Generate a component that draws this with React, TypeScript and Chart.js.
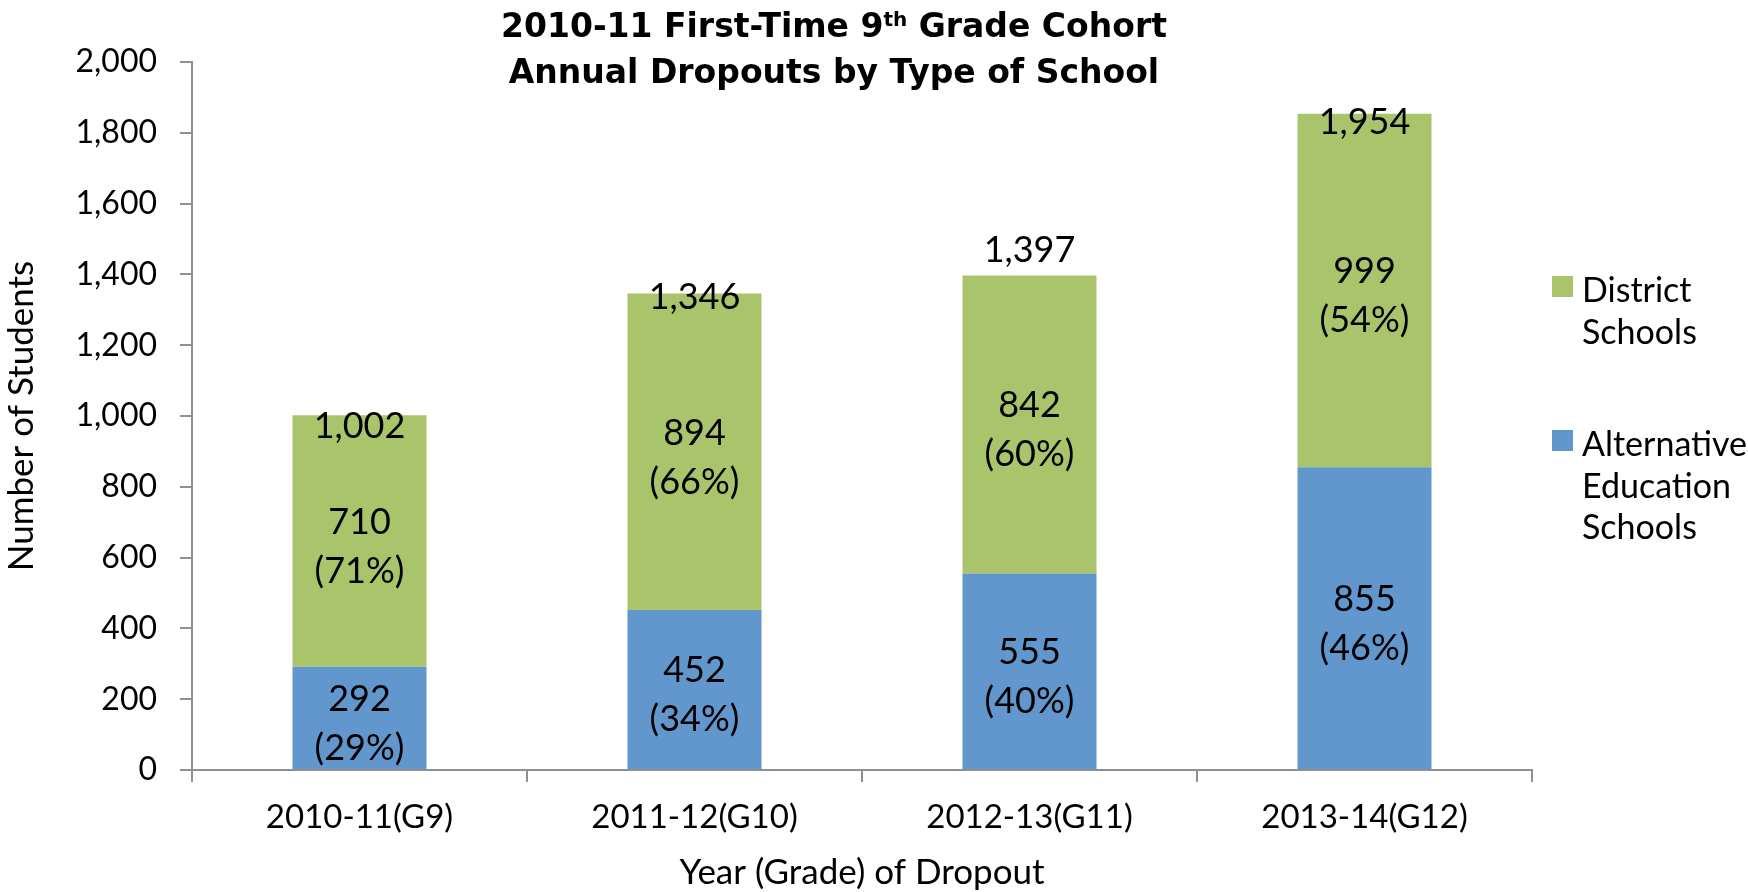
import React, { useEffect, useRef } from "react";
import { Chart, registerables } from "chart.js";

Chart.register(...registerables);

// ---- data ----
const categories = ["2010-11(G9)", "2011-12(G10)", "2012-13(G11)", "2013-14(G12)"];
const alternativeValues = [292, 452, 555, 855];
const districtValues = [710, 894, 842, 999];
const totalLabels = ["1,002", "1,346", "1,397", "1,954"];
const seriesNames = ["Alternative Education Schools", "District Schools"];
const legendLines: Record<string, string[]> = {
  "District Schools": ["District", "Schools"],
  "Alternative Education Schools": ["Alternative", "Education", "Schools"],
};
const titleLine1 = ["2010-11 First-Time 9", "th", " Grade Cohort"];
const titleLine2 = "Annual Dropouts by Type of School";
const xTitle = "Year (Grade) of Dropout";
const yTitle = "Number of Students";
const yMin = 0;
const yMax = 2000;
const yStep = 200;

// ---- styles ----
const GREEN = "#A9C46B";
const BLUE = "#6297CD";
const AXIS = "#8f8f8f";
const FONT = "Lato, 'Open Sans', sans-serif";
const TITLE_FONT = "'DejaVu Sans', Lato, sans-serif";
const totalLabelNudge = [9.5, 3, -26.5, 7];

const titlePlugin = {
  id: "customTitle",
  afterDraw(chart: any) {
    const ctx = chart.ctx;
    ctx.save();
    ctx.fillStyle = "#000";
    ctx.textBaseline = "alphabetic";
    ctx.textAlign = "left";
    const cx = 834;
    const big = "bold 33px " + TITLE_FONT;
    const small = "bold 20px " + TITLE_FONT;
    ctx.font = big;
    const w0 = ctx.measureText(titleLine1[0]).width;
    const w2 = ctx.measureText(titleLine1[2]).width;
    ctx.font = small;
    const w1 = ctx.measureText(titleLine1[1]).width;
    let x = cx - (w0 + w1 + w2) / 2;
    const b1 = 36.5;
    ctx.font = big;
    ctx.fillText(titleLine1[0], x, b1);
    x += w0;
    ctx.font = small;
    ctx.fillText(titleLine1[1], x, b1 - 11);
    x += w1;
    ctx.font = big;
    ctx.fillText(titleLine1[2], x, b1);
    ctx.textAlign = "center";
    ctx.fillText(titleLine2, cx, 83);
    ctx.restore();
  },
};

const legendPlugin = {
  id: "customLegend",
  afterDraw(chart: any) {
    const ctx = chart.ctx;
    const area = chart.chartArea;
    const items = [...chart.data.datasets].reverse();
    const boxX = area.right + 20;
    const tops = [276, 430];
    ctx.save();
    ctx.font = "34px " + FONT;
    ctx.textBaseline = "alphabetic";
    ctx.textAlign = "left";
    items.forEach((ds: any, i: number) => {
      const top = tops[i];
      ctx.fillStyle = ds.backgroundColor;
      ctx.fillRect(boxX, top, 21, 21);
      ctx.fillStyle = "#000";
      const lines = legendLines[ds.label] || [ds.label];
      lines.forEach((ln: string, j: number) => {
        ctx.fillText(ln, boxX + 30, top + 26 + j * 41.5);
      });
    });
    ctx.restore();
  },
};

const labelPlugin = {
  id: "barLabels",
  afterDatasetsDraw(chart: any) {
    const ctx = chart.ctx;
    const size = 36;
    ctx.save();
    ctx.font = size + "px " + FONT;
    ctx.fillStyle = "#000";
    ctx.textAlign = "center";
    ctx.textBaseline = "alphabetic";
    const capHalf = 0.358 * size;
    const n = categories.length;
    const totals = categories.map((_, i) =>
      chart.data.datasets.reduce((s: number, d: any) => s + d.data[i], 0)
    );
    chart.data.datasets.forEach((ds: any, di: number) => {
      const meta = chart.getDatasetMeta(di);
      meta.data.forEach((el: any, i: number) => {
        const mid = (el.y + el.base) / 2;
        const v = ds.data[i];
        const pct = Math.round((v / totals[i]) * 100);
        ctx.fillText(String(v), el.x, mid - 20 + capHalf);
        ctx.fillText("(" + pct + "%)", el.x, mid + 29 + capHalf);
      });
    });
    const topMeta = chart.getDatasetMeta(chart.data.datasets.length - 1);
    for (let i = 0; i < n; i++) {
      const el: any = topMeta.data[i];
      ctx.fillText(totalLabels[i], el.x, el.y + totalLabelNudge[i] + capHalf);
    }
    ctx.restore();
  },
};

export default function App() {
  const ref = useRef<HTMLCanvasElement>(null);
  useEffect(() => {
    if (!ref.current) return;
    const chart = new Chart(ref.current, {
      type: "bar",
      data: {
        labels: categories,
        datasets: [
          { label: seriesNames[0], data: alternativeValues, backgroundColor: BLUE },
          { label: seriesNames[1], data: districtValues, backgroundColor: GREEN },
        ],
      },
      options: {
        responsive: false,
        devicePixelRatio: 1,
        animation: false,
        events: [],
        layout: { padding: { top: 62, right: 216, left: 0, bottom: 0 } },
        datasets: { bar: { barPercentage: 0.4, categoryPercentage: 1 } },
        plugins: { legend: { display: false }, title: { display: false }, tooltip: { enabled: false } },
        scales: {
          x: {
            stacked: true,
            afterFit: (s: any) => { s.height = 122; },
            grid: { display: true, drawOnChartArea: false, drawTicks: true, tickLength: 12, color: AXIS, lineWidth: 2, offset: true },
            border: { display: true, color: AXIS, width: 2 },
            ticks: { color: "#000", font: { family: FONT, size: 33 }, padding: 16, maxRotation: 0 },
            title: { display: true, text: xTitle, color: "#000", font: { family: FONT, size: 35, lineHeight: 1 }, padding: { top: 0, bottom: 1.5 } },
          },
          y: {
            stacked: true,
            min: yMin,
            max: yMax,
            afterFit: (s: any) => { s.width = 192; },
            grid: { display: true, drawOnChartArea: false, drawTicks: true, tickLength: 12, color: AXIS, lineWidth: 2 },
            border: { display: true, color: AXIS, width: 2 },
            ticks: {
              stepSize: yStep,
              color: "#000",
              font: { family: FONT, size: 32 },
              padding: 23,
              callback: (v: any) => Number(v).toLocaleString("en-US"),
            },
            title: { display: true, text: yTitle, color: "#000", font: { family: FONT, size: 35 }, padding: { top: 1, bottom: 0 } },
          },
        },
      },
      plugins: [labelPlugin, titlePlugin, legendPlugin],
    });
    return () => chart.destroy();
  }, []);
  return (
    <div style={{ position: "fixed", left: 0, top: 0, width: 1748, height: 892, background: "#fff" }}>
      <canvas ref={ref} width={1748} height={892} style={{ width: 1748, height: 892, display: "block" }} />
    </div>
  );
}
